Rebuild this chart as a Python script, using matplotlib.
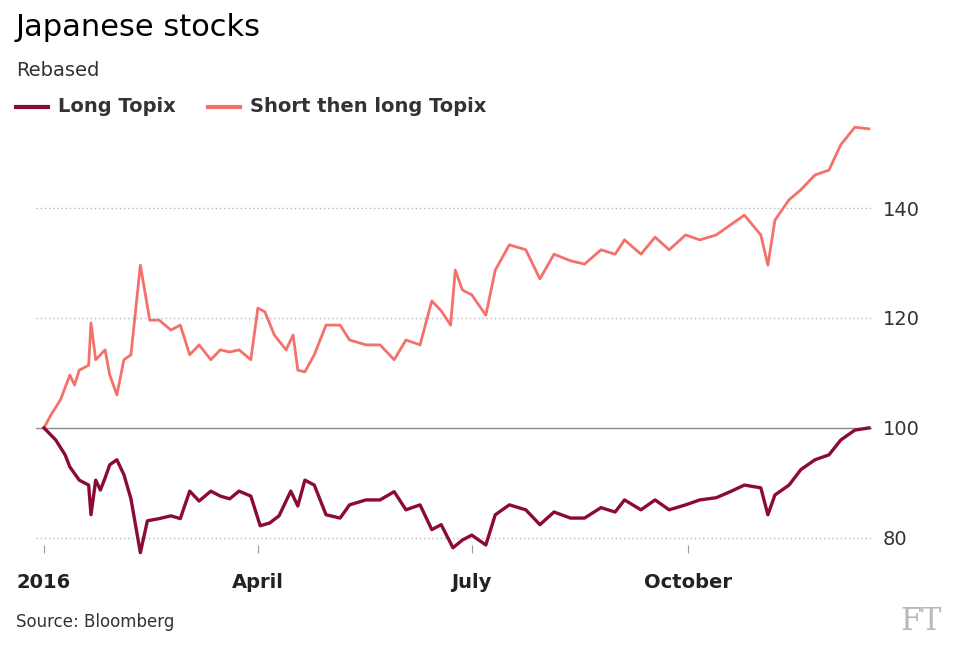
import matplotlib
matplotlib.use("Agg")
import matplotlib.pyplot as plt

# day of 2016 (0 = 1 Jan) and rebased value
long_days = [0, 5, 9, 11, 15, 19, 20, 22, 24, 26, 28, 31, 34, 37, 41, 44, 49, 54, 58, 62,
             66, 71, 75, 79, 83, 88, 92, 96, 100, 105, 108, 111, 115, 120, 126, 130, 137,
             143, 149, 154, 160, 165, 169, 174, 178, 182, 188, 192, 198, 205, 211, 217,
             224, 230, 237, 243, 247, 254, 260, 266, 273, 279, 286, 292, 298, 305, 308,
             311, 317, 322, 328, 334, 339, 345, 351]
long_vals = [100, 97.8, 95.1, 92.9, 90.5, 89.6, 84.2, 90.5, 88.7, 90.9, 93.3, 94.2, 91.5,
             87.1, 77.3, 83.1, 83.5, 84, 83.5, 88.5, 86.7, 88.5, 87.6, 87.1, 88.5, 87.6,
             82.2, 82.7, 84, 88.5, 85.8, 90.5, 89.6, 84.2, 83.6, 86, 86.9, 86.9, 88.4,
             85.1, 86, 81.5, 82.4, 78.2, 79.6, 80.5, 78.7, 84.2, 86, 85.1, 82.4, 84.7,
             83.6, 83.6, 85.5, 84.7, 86.9, 85.1, 86.9, 85.1, 86, 86.9, 87.3, 88.4, 89.6,
             89.1, 84.2, 87.8, 89.6, 92.4, 94.2, 95.1, 97.8, 99.6, 100]

short_days = [0, 3, 7, 11, 13, 15, 19, 20, 22, 24, 26, 28, 31, 34, 37, 41, 45, 49, 54, 58,
              62, 66, 71, 75, 79, 83, 88, 91, 94, 98, 103, 106, 108, 111, 115, 120, 126,
              130, 137, 143, 149, 154, 160, 165, 169, 173, 175, 178, 182, 188, 192, 198,
              205, 211, 217, 224, 230, 237, 243, 247, 254, 260, 266, 273, 279, 286, 292,
              298, 305, 308, 311, 317, 322, 328, 334, 339, 345, 351]
short_vals = [100, 102.4, 105.1, 109.6, 107.8, 110.5, 111.4, 119.1, 112.4, 113.3, 114.2,
              109.6, 106, 112.4, 113.3, 129.6, 119.6, 119.6, 117.8, 118.7, 113.3, 115.1,
              112.4, 114.2, 113.8, 114.2, 112.4, 121.8, 121.1, 116.9, 114.2, 116.9, 110.5,
              110.2, 113.3, 118.7, 118.7, 116, 115.1, 115.1, 112.4, 116, 115.1, 123.1,
              121.3, 118.7, 128.7, 125.1, 124.2, 120.5, 128.7, 133.3, 132.4, 127.1, 131.6,
              130.4, 129.8, 132.4, 131.6, 134.2, 131.6, 134.7, 132.4, 135.1, 134.2, 135.1,
              136.9, 138.7, 135.1, 129.6, 137.8, 141.5, 143.3, 146, 146.9, 151.5, 154.7,
              154.4]

tick_days = [0, 91, 182, 274]
tick_labels = ["2016", "April", "July", "October"]
y_ticks = [80, 120, 140]

LONG_C = "#8a0b36"
SHORT_C = "#f4716b"

fig = plt.figure(figsize=(9.59, 6.55), dpi=100)
ax = fig.add_axes([36 / 959, 1 - 545 / 655, (872 - 36) / 959, 420 / 655])
ax.set_xlim(-3.4, 352.3)
ax.set_ylim(78.7, 155.1)

for y in y_ticks:
    ax.axhline(y, color="#b5b5b5", lw=1, ls=(0, (1, 2)), zorder=1)
ax.axhline(100, color="#8c8c8c", lw=1, zorder=1)

ax.plot(short_days, short_vals, color=SHORT_C, lw=2, zorder=3, clip_on=False)
ax.plot(long_days, long_vals, color=LONG_C, lw=2.4, zorder=4, clip_on=False)

for s in ax.spines.values():
    s.set_visible(False)
ax.yaxis.tick_right()
ax.set_yticks(y_ticks + [100])
ax.tick_params(axis="y", length=0, pad=8, labelsize=14, labelcolor="#333333")
ax.set_xticks(tick_days)
ax.set_xticklabels(tick_labels)
ax.tick_params(axis="x", length=6, color="#999999", pad=14, labelsize=14,
               labelcolor="#222222")
for lab in ax.get_xticklabels():
    lab.set_fontweight("bold")

fig.text(16 / 959, 1 - 28 / 655, "Japanese stocks", fontsize=22, va="center")
fig.text(16 / 959, 1 - 70 / 655, "Rebased", fontsize=14, va="center", color="#333333")
fig.lines.append(plt.Line2D([16 / 959, 48 / 959], [1 - 107 / 655] * 2, color=LONG_C,
                            lw=3, transform=fig.transFigure))
fig.text(58 / 959, 1 - 107 / 655, "Long Topix", fontsize=14, va="center",
         fontweight="bold", color="#333333")
fig.lines.append(plt.Line2D([208 / 959, 240 / 959], [1 - 107 / 655] * 2, color=SHORT_C,
                            lw=3, transform=fig.transFigure))
fig.text(250 / 959, 1 - 107 / 655, "Short then long Topix", fontsize=14, va="center",
         fontweight="bold", color="#333333")
fig.text(16 / 959, 1 - 622 / 655, "Source: Bloomberg", fontsize=12, va="center",
         color="#333333")
fig.text(942 / 959, 1 - 622 / 655, "FT", fontsize=22, va="center", ha="right",
         family="DejaVu Serif", color="#b8b8b8")

fig.savefig("out.png", dpi=100, facecolor="white")
